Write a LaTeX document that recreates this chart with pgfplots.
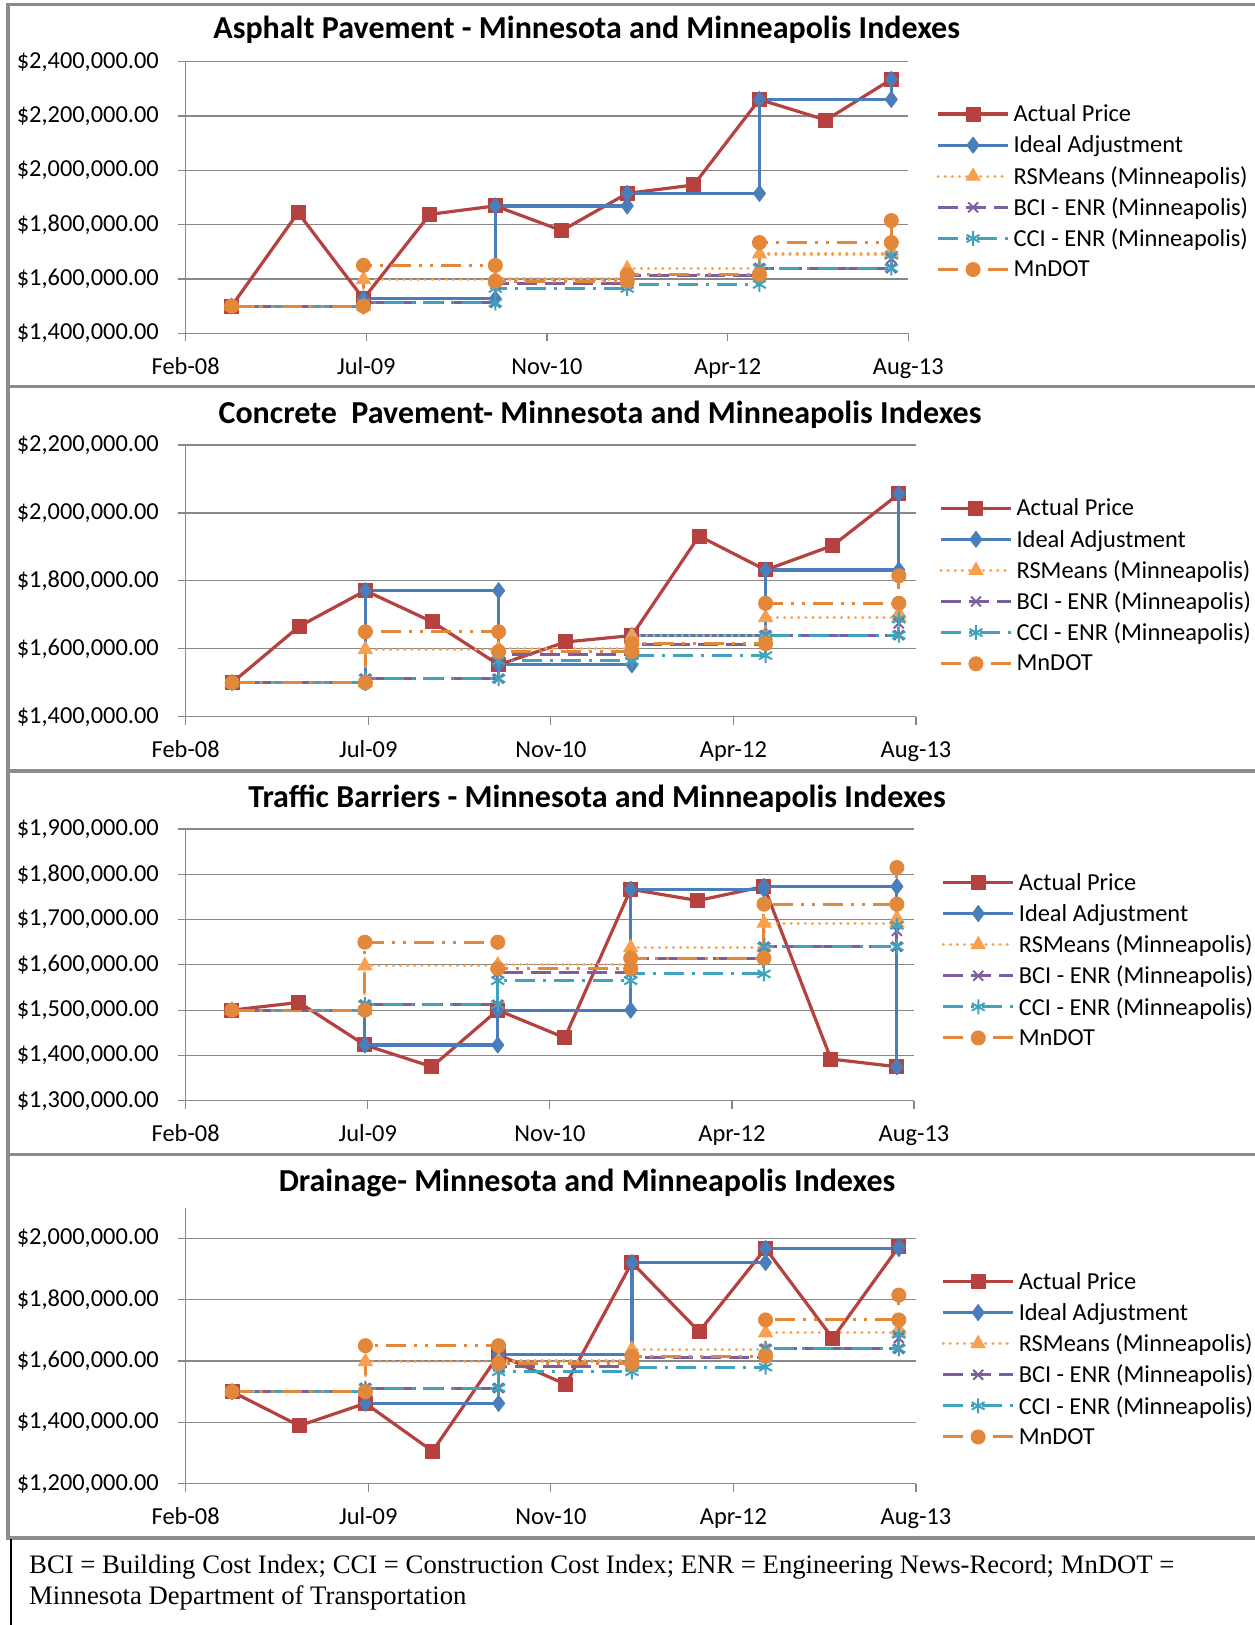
\documentclass[border=0pt]{standalone}
\usepackage{fontspec}
\setmainfont{Carlito}
\newfontfamily\tnr{Liberation Serif}
\usepackage{pgfplots}
\usepackage{pgfplotstable}
\pgfplotsset{compat=1.18}

\definecolor{cred}{HTML}{B5423F}
\definecolor{cblue}{HTML}{4A7EBB}
\definecolor{crs}{HTML}{F9A04E}
\definecolor{cbci}{HTML}{7D5FA0}
\definecolor{ccci}{HTML}{3FA3BE}
\definecolor{cmn}{HTML}{E3883A}
\definecolor{cgrid}{HTML}{888888}
\definecolor{cborder}{HTML}{8C8C8C}

% x = days after the axis start (Feb-08); y = thousands of dollars
\pgfplotstableread{
x    a1   a2   a3   a4
127  1500 1500 1500 1500
311  1844 1666 1517 1389
492  1527 1771 1423 1462
676  1838 1679 1375 1306
857  1869 1553 1500 1620
1041 1778 1620 1439 1524
1222 1915 1639 1767 1921
1406 1946 1932 1742 1696
1588 2261 1832 1773 1967
1772 2185 1904 1392 1674
1953 2335 2056 1375 1973
}\actual

\pgfplotstableread{
x    i1   i2   i3   i4   rs   bci  cci  mn
127  1500 1500 1500 1500 1500 1500 1500 1500
492  1500 1500 1500 1500 1500 1500 1500 1500
492  1527 1771 1423 1462 1598 1512 1512 1650
857  1527 1771 1423 1462 1598 1512 1512 1650
857  1869 1553 1500 1620 1600 1582 1565 1592
1222 1869 1553 1500 1620 1600 1582 1565 1592
1222 1915 1639 1767 1921 1638 1613 1580 1615
1588 1915 1639 1767 1921 1638 1613 1580 1615
1588 2261 1832 1773 1967 1692 1640 1640 1734
1953 2261 1832 1773 1967 1692 1640 1640 1734
1953 2335 2056 1375 1973 1703 1675 1687 1815
}\steps

\pgfplotsset{
  base/.style={
    scale only axis, anchor=south west,
    xmin=0, xmax=2000,
    xtick={0,500,1000,1500,2000},
    xticklabels={Feb-08,Jul-09,Nov-10,Apr-12,Aug-13},
    axis x line*=bottom, axis y line*=left,
    axis line style={cgrid, line width=1.2pt},
    tick style={cgrid, line width=1.2pt},
    tick align=outside, major tick length=8pt,
    ymajorgrids, grid style={cgrid, line width=1.2pt},
    tick label style={font=\fontsize{24.4}{29}\selectfont, text=black},
    xticklabel style={anchor=base, inner sep=0pt, yshift=-33.2pt},
    yticklabel style={anchor=east, inner sep=0pt, xshift=-18.7pt},
    legend cell align=left,
    legend image code/.code={\draw[mark repeat=2,mark phase=2,##1] plot coordinates {(0pt,0pt) (35pt,0pt) (70pt,0pt)};},
    legend style={draw=none, fill=none, anchor=west, inner sep=0pt, outer sep=0pt,
      row sep=0pt, column sep=4pt, font=\fontsize{24.4}{29}\selectfont,
      nodes={inner sep=0pt, minimum height=31.1pt}},
  },
  actual/.style={cred, line width=3.2pt, line join=round, mark=square*, mark size=7pt,
    mark options={solid, fill=cred, line width=1pt}},
  ideal/.style={cblue, line width=3.2pt, line join=round, mark=diamond*, mark size=8pt,
    mark options={solid, fill=cblue, line width=1pt}},
  rsm/.style={crs, line width=3.2pt, line cap=round, dash pattern=on 0.1pt off 7pt,
    mark=triangle*, mark size=8pt, mark options={solid, fill=crs, line width=1pt}},
  bci/.style={cbci, line width=3pt, dash pattern=on 20pt off 8pt,
    mark=x, mark size=7pt, mark options={solid, line width=2pt}},
  cci/.style={ccci, line width=3pt, dash pattern=on 20pt off 8pt on 3pt off 8pt,
    mark=asterisk, mark size=7.5pt, mark options={solid, line width=2pt}},
  mnd/.style={cmn, line width=3pt, dash pattern=on 20pt off 8pt on 3pt off 8pt on 3pt off 8pt,
    mark=*, mark size=7pt, mark options={solid, fill=cmn, line width=1pt}},
}

\newcommand{\allseries}[1]{%
  \addplot[actual] table[x=x, y=a#1] {\actual};
  \addplot[ideal] table[x=x, y=i#1] {\steps};
  \addplot[rsm] table[x=x, y=rs] {\steps};
  \addplot[bci] table[x=x, y=bci] {\steps};
  \addplot[cci] table[x=x, y=cci] {\steps};
  \addplot[mnd] table[x=x, y=mn] {\steps};
  \legend{Actual Price, Ideal Adjustment, RSMeans (Minneapolis), BCI - ENR (Minneapolis), CCI - ENR (Minneapolis), MnDOT}
}

\begin{document}
\begin{tikzpicture}[x=1pt, y=1pt]
\useasboundingbox (0,0) rectangle (1254,1625);

% chart borders
\draw[cborder, line width=3.3pt] (1262,1620.3) -- (8,1620.3) -- (8,87) -- (1262,87);
\draw[cborder, line width=3.3pt] (8,1238.4) -- (1262,1238.4);
\draw[cborder, line width=3.3pt] (8,854) -- (1262,854);
\draw[cborder, line width=3.3pt] (8,470.5) -- (1262,470.5);
\draw[black, line width=2pt] (10.5,86) -- (10.5,-2);

% titles
\node[font=\bfseries\fontsize{32}{38}\selectfont, anchor=base] at (586.6,1586.5) {Asphalt Pavement - Minnesota and Minneapolis Indexes};
\node[font=\bfseries\fontsize{32}{38}\selectfont, anchor=base] at (600,1201.7) {Concrete\ \ Pavement- Minnesota and Minneapolis Indexes};
\node[font=\bfseries\fontsize{32}{38}\selectfont, anchor=base] at (597,817.2) {Traffic Barriers - Minnesota and Minneapolis Indexes};
\node[font=\bfseries\fontsize{32}{38}\selectfont, anchor=base] at (587,433.7) {Drainage- Minnesota and Minneapolis Indexes};

% chart 1
\begin{axis}[base, at={(185.7pt,1291.7pt)}, width=722.6pt, height=271.6pt,
  ymin=1400, ymax=2400, ytick={1400,1600,1800,2000,2200,2400},
  yticklabels={{\$1,400,000.00},{\$1,600,000.00},{\$1,800,000.00},{\$2,000,000.00},{\$2,200,000.00},{\$2,400,000.00}},
  legend style={at={(axis description cs:1.039,0.521)}}]
\allseries{1}
\end{axis}

% chart 2
\begin{axis}[base, at={(185.7pt,908.3pt)}, width=730.3pt, height=271.7pt,
  ymin=1400, ymax=2200, ytick={1400,1600,1800,2000,2200},
  yticklabels={{\$1,400,000.00},{\$1,600,000.00},{\$1,800,000.00},{\$2,000,000.00},{\$2,200,000.00}},
  legend style={at={(axis description cs:1.032,0.481)}}]
\allseries{2}
\end{axis}

% chart 3
\begin{axis}[base, at={(185.7pt,524.3pt)}, width=728.3pt, height=271.7pt,
  ymin=1300, ymax=1900, ytick={1300,1400,1500,1600,1700,1800,1900},
  yticklabels={{\$1,300,000.00},{\$1,400,000.00},{\$1,500,000.00},{\$1,600,000.00},{\$1,700,000.00},{\$1,800,000.00},{\$1,900,000.00}},
  legend style={at={(axis description cs:1.038,0.517)}}]
\allseries{3}
\end{axis}

% chart 4
\begin{axis}[base, at={(185.7pt,141.3pt)}, width=730.3pt, height=275.4pt,
  ymin=1200, ymax=2098, ytick={1200,1400,1600,1800,2000},
  yticklabels={{\$1,200,000.00},{\$1,400,000.00},{\$1,600,000.00},{\$1,800,000.00},{\$2,000,000.00}},
  legend style={at={(axis description cs:1.035,0.452)}}]
\allseries{4}
\end{axis}

% footnote
\node[font=\tnr\fontsize{26.7}{31}\selectfont, anchor=base west, inner sep=0pt] at (29,51) {BCI = Building Cost Index; CCI = Construction Cost Index; ENR = Engineering News-Record; MnDOT =};
\node[font=\tnr\fontsize{26.7}{31}\selectfont, anchor=base west, inner sep=0pt] at (29,20) {Minnesota Department of Transportation};
\end{tikzpicture}
\end{document}
